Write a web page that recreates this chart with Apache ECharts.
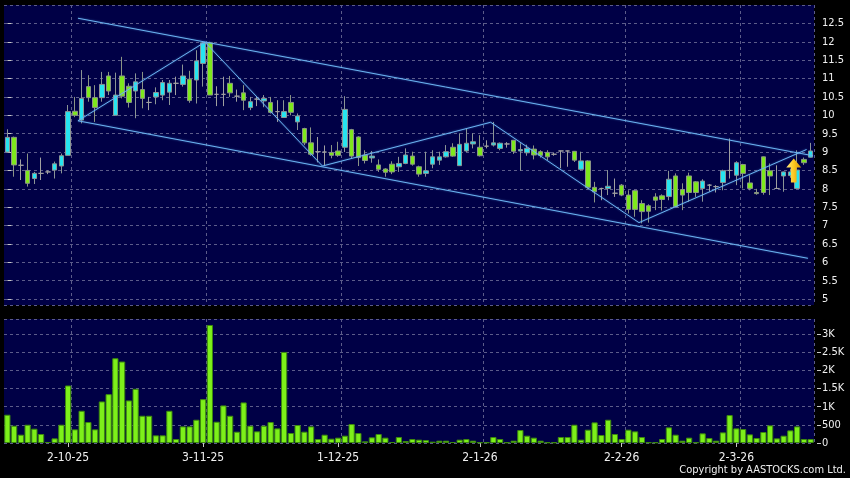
<!DOCTYPE html>
<html>
<head>
<meta charset="utf-8">
<script src="https://cdn.jsdelivr.net/npm/echarts@6.0.0/dist/echarts.min.js"></script>
<style>
html,body{margin:0;padding:0;background:#000;}
#chart{width:850px;height:478px;}
</style>
</head>
<body>
<div id="chart"></div>
<script>
const dates = [
 '18-9-25','19-9-25','22-9-25','23-9-25','24-9-25','25-9-25','26-9-25','29-9-25','30-9-25',
 '2-10-25','3-10-25','6-10-25','8-10-25','9-10-25','10-10-25','13-10-25','14-10-25','15-10-25','16-10-25','17-10-25',
 '20-10-25','21-10-25','22-10-25','23-10-25','24-10-25','27-10-25','28-10-25','30-10-25','31-10-25',
 '3-11-25','4-11-25','5-11-25','6-11-25','7-11-25','10-11-25','11-11-25','12-11-25','13-11-25','14-11-25',
 '17-11-25','18-11-25','19-11-25','20-11-25','21-11-25','24-11-25','25-11-25','26-11-25','27-11-25','28-11-25',
 '1-12-25','2-12-25','3-12-25','4-12-25','5-12-25','8-12-25','9-12-25','10-12-25','11-12-25','12-12-25',
 '15-12-25','16-12-25','17-12-25','18-12-25','19-12-25','22-12-25','23-12-25','24-12-25','29-12-25','30-12-25','31-12-25',
 '2-1-26','5-1-26','6-1-26','7-1-26','8-1-26','9-1-26','12-1-26','13-1-26','14-1-26','15-1-26','16-1-26',
 '19-1-26','20-1-26','21-1-26','22-1-26','23-1-26','26-1-26','27-1-26','28-1-26','29-1-26','30-1-26',
 '2-2-26','3-2-26','4-2-26','5-2-26','6-2-26','9-2-26','10-2-26','11-2-26','12-2-26','13-2-26',
 '16-2-26','20-2-26','23-2-26','24-2-26','25-2-26','26-2-26','27-2-26',
 '2-3-26','3-3-26','4-3-26','5-3-26','6-3-26','9-3-26','10-3-26','11-3-26','12-3-26','13-3-26','16-3-26','17-3-26'
];
const opens = [
 9.00,9.40,8.64,8.50,8.28,8.42,8.46,8.51,8.62,8.91,
 10.11,9.87,10.78,10.48,10.48,11.07,10.00,11.07,10.79,10.66,
 10.70,10.35,10.50,10.55,10.63,10.87,10.84,10.98,10.96,11.41,
 11.97,10.57,10.57,10.87,10.52,10.61,10.21,10.44,10.39,10.35,
 10.10,9.94,10.35,9.82,9.64,9.25,9.01,9.00,8.99,9.03,
 9.13,9.61,9.41,8.92,8.84,8.65,8.54,8.67,8.60,8.69,
 8.89,8.60,8.42,8.67,8.78,8.87,9.13,8.63,9.03,9.22,
 9.13,9.16,9.19,9.10,9.22,9.32,9.03,8.98,9.08,9.01,
 8.99,8.94,9.03,9.03,9.02,8.53,8.76,8.04,8.01,8.01,
 7.88,8.10,7.83,7.95,7.60,7.54,7.78,7.81,7.79,8.35,
 7.98,8.35,8.19,8.01,8.10,8.06,8.17,8.50,8.37,8.66,
 8.16,7.90,8.87,8.49,8.01,8.35,8.36,8.01,8.80,8.86
];
const closes = [
 9.40,8.65,8.64,8.15,8.42,8.42,8.46,8.68,8.90,10.10,
 10.00,10.46,10.48,10.21,10.84,10.66,10.55,10.52,10.35,10.91,
 10.46,10.35,10.62,10.89,10.87,10.87,11.07,10.40,11.48,11.97,
 10.55,10.57,10.57,10.61,10.52,10.41,10.37,10.44,10.46,10.08,
 10.10,10.10,10.08,9.98,9.25,8.94,9.01,9.00,8.91,8.91,
 10.16,8.89,8.85,8.77,8.89,8.53,8.45,8.46,8.69,8.92,
 8.67,8.40,8.49,8.87,8.87,9.01,8.89,9.21,9.24,9.28,
 8.90,9.16,9.25,9.24,9.22,9.02,9.07,9.10,8.92,8.91,
 8.87,8.94,9.03,9.03,8.78,8.76,8.04,7.92,8.01,8.07,
 7.88,7.83,7.44,7.44,7.38,7.39,7.69,7.71,8.26,7.51,
 7.83,7.90,7.90,8.21,8.10,8.06,8.49,8.50,8.71,8.42,
 8.01,7.87,7.90,8.35,8.01,8.46,8.46,8.51,8.71,9.03
];
const highs = [
 9.62,9.42,8.80,8.96,8.46,8.85,8.50,8.74,8.96,10.28,
 10.50,11.23,11.09,10.82,11.18,11.18,11.16,11.59,10.87,11.14,
 11.18,10.50,10.76,10.96,10.96,11.05,11.38,11.21,11.77,12.00,
 12.00,10.79,11.05,11.07,10.70,10.82,10.50,10.52,10.55,10.50,
 10.41,10.41,10.55,10.05,9.66,9.67,9.41,9.18,9.19,9.28,
 10.52,9.63,9.43,9.05,9.03,8.80,8.56,8.75,8.87,9.10,
 9.01,8.63,9.01,9.05,9.01,9.19,9.24,9.51,9.64,9.51,
 9.46,9.32,9.82,9.26,9.27,9.33,9.24,9.20,9.18,9.05,
 9.05,8.99,9.04,9.04,9.03,9.01,8.78,8.19,8.03,8.51,
 8.28,8.13,7.96,7.97,7.69,7.58,7.88,7.85,8.49,8.42,
 8.15,8.44,8.21,8.26,8.13,8.10,8.52,9.37,8.75,8.68,
 8.37,8.00,8.88,8.69,8.64,8.47,8.55,9.05,8.85,9.25
];
const lows = [
 8.98,8.33,8.24,8.06,8.13,8.24,8.40,8.28,8.42,8.91,
 9.95,9.78,10.37,9.82,10.37,10.55,10.00,10.46,10.21,9.92,
 10.19,10.14,10.30,10.41,10.28,10.55,10.78,10.34,10.32,10.78,
 10.55,10.25,10.25,10.50,10.37,10.14,10.14,10.25,10.22,10.05,
 9.82,9.94,10.00,9.60,9.19,8.90,8.72,8.62,8.83,8.87,
 9.00,8.83,8.62,8.69,8.71,8.46,8.33,8.40,8.46,8.67,
 8.63,8.33,8.33,8.56,8.65,8.85,8.87,8.63,9.00,9.10,
 8.88,9.10,9.15,9.05,9.12,8.95,8.49,8.90,8.80,8.85,
 8.78,8.90,8.56,8.60,8.73,8.50,8.00,7.63,7.69,7.83,
 7.78,7.80,7.33,7.24,7.06,7.08,7.42,7.41,7.69,7.49,
 7.42,7.65,7.78,7.65,7.92,7.90,7.96,8.28,8.10,8.01,
 7.96,7.84,7.84,7.83,8.00,7.92,8.30,8.00,8.65,8.85
];
const volumes = [
 780,477,229,504,394,248,28,128,504,1586,
 376,889,578,376,1146,1348,2338,2247,1174,1495,
 752,752,211,211,889,110,458,458,642,1210,
 3255,587,1036,752,312,1119,477,321,477,578,
 403,2512,275,495,312,458,110,229,119,147,
 202,523,275,46,156,248,147,28,165,55,
 110,92,80,37,64,64,28,92,110,64,
 18,18,165,110,18,64,358,202,147,64,
 18,18,165,165,504,92,367,569,220,642,
 248,110,367,321,165,18,18,110,431,229,
 64,147,18,266,138,64,293,770,403,385,
 238,138,303,486,128,202,348,458,110,110
];
const dateLabels = ['2-10-25','3-11-25','1-12-25','2-1-26','2-2-26','2-3-26'];
// trend lines: [bar index, price]
const upperChannel = [[10.46,12.64],[119.35,8.90]];
const lowerChannel = [[10.46,9.85],[118.6,6.11]];
const zigzag = [[10.46,9.85],[29.27,11.99],[46.68,8.62],[71.6,9.81],[93.57,7.08],[118.4,9.07]];
const arrowPoint = [116.5, 8.50];

const FONT = "'DejaVu Sans Condensed','DejaVu Sans',sans-serif";
const navy = '#000046';
const gridLine = {show:true, lineStyle:{color:'#5c5c8a', width:1, type:[3,3]}};
const isLabelDate = (v) => dateLabels.indexOf(v) >= 0;
const splitAfterLabel = (idx) => idx > 0 && isLabelDate(dates[idx-1]);

const candleData = dates.map((d, i) => {
  const item = {value:[opens[i], closes[i], lows[i], highs[i]]};
  if (opens[i] === closes[i]) item.itemStyle = {color:'#a0a0a0', borderColor:'#a0a0a0', color0:'#a0a0a0', borderColor0:'#a0a0a0'};
  return item;
});

const lineStyle = {color:'#6cb4f0', width:1, shadowBlur:2, shadowColor:'rgba(90,170,255,0.6)'};

const chart = echarts.init(document.getElementById('chart'), null, {renderer:'canvas'});
chart.setOption({
  animation:false,
  backgroundColor:'#000',
  grid:[
    {left:4, right:36, top:5, height:300, show:true, backgroundColor:navy, borderWidth:0, outerBoundsMode:'none', containLabel:false},
    {left:4, right:36, top:319, height:124, show:true, backgroundColor:navy, borderWidth:0, outerBoundsMode:'none', containLabel:false}
  ],
  xAxis:[
    {type:'category', gridIndex:0, data:dates, boundaryGap:true,
     axisLine:{show:false}, axisTick:{show:false}, axisLabel:{show:false},
     splitLine:Object.assign({interval:(idx)=>splitAfterLabel(idx)}, gridLine)},
    {type:'category', gridIndex:1, data:dates, boundaryGap:true,
     axisLine:{show:false},
     axisTick:{show:true, alignWithLabel:true, length:4, interval:(idx,v)=>isLabelDate(v), lineStyle:{color:'#c8c8c8'}},
     axisLabel:{show:true, interval:(idx,v)=>isLabelDate(v), color:'#f0f0f0', fontSize:12, fontFamily:FONT, margin:9},
     splitLine:Object.assign({interval:(idx)=>splitAfterLabel(idx)}, gridLine)},
    {type:'value', gridIndex:0, min:-0.5, max:dates.length-0.5, show:false, position:'top'}
  ],
  yAxis:[
    {type:'value', gridIndex:0, position:'right', min:4.84, max:13, splitNumber:16, minInterval:0.5, maxInterval:0.5,
     offset:3, axisLine:{show:false},
     axisTick:{show:true, length:4, lineStyle:{color:'#c8c8c8'}},
     axisLabel:{color:'#f0f0f0', fontSize:11, fontFamily:FONT, margin:5, showMinLabel:false, showMaxLabel:false},
     splitLine:gridLine},
    {type:'value', gridIndex:1, position:'right', min:0, max:3420, interval:500,
     offset:3, axisLine:{show:false},
     axisTick:{show:true, length:4, lineStyle:{color:'#c8c8c8'}},
     axisLabel:{color:'#f0f0f0', fontSize:11, fontFamily:FONT, margin:5, showMaxLabel:false,
       formatter:(v)=> v >= 1000 ? (v/1000)+'K' : String(v)},
     splitLine:gridLine}
  ],
  series:[
    {type:'candlestick', xAxisIndex:0, yAxisIndex:0, data:candleData, barWidth:'74%',
     itemStyle:{color:'#26e4f0', color0:'#7ee81c', borderColor:'#8b9595', borderColor0:'#8b9585', borderWidth:1}},
    {type:'bar', xAxisIndex:1, yAxisIndex:1, data:volumes, barCategoryGap:'8%',
     itemStyle:{color:'#7df01a', borderColor:'#3d8a0e', borderWidth:1}},
    {type:'line', xAxisIndex:2, yAxisIndex:0, data:upperChannel, symbol:'none', lineStyle:lineStyle, z:5},
    {type:'line', xAxisIndex:2, yAxisIndex:0, data:lowerChannel, symbol:'none', lineStyle:lineStyle, z:5},
    {type:'line', xAxisIndex:2, yAxisIndex:0, data:zigzag, symbol:'none', lineStyle:lineStyle, z:5,
     markPoint:{
       symbol:'path://M8,0 L16,9 L11,9 L11,24 L5,24 L5,9 L0,9 Z',
       symbolSize:[15,24],
       label:{show:false},
       itemStyle:{color:new echarts.graphic.LinearGradient(0,0,1,0,[{offset:0,color:'#ffe880'},{offset:0.5,color:'#ffc820'},{offset:1,color:'#d89000'}])},
       data:[{coord:arrowPoint}]
     }}
  ],
  graphic:[
    {type:'text', right:4, bottom:2, style:{text:'Copyright by AASTOCKS.com Ltd.', fill:'#f0f0f0', font:"11px "+FONT}}
  ]
});
</script>
</body>
</html>
